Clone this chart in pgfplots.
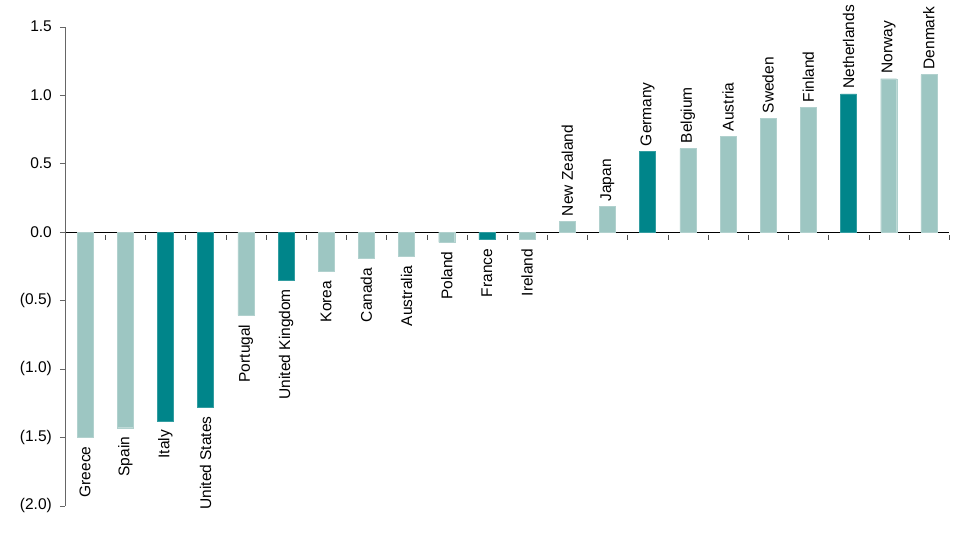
\documentclass[border=0pt]{standalone}
\usepackage{pgfplots}
\pgfplotsset{compat=1.18}
\usepackage{fontspec}
\setmainfont{Liberation Sans}
\definecolor{lightteal}{RGB}{157,198,194}
\definecolor{darkteal}{RGB}{0,133,138}
\begin{document}
\begin{tikzpicture}
\fontsize{15.5bp}{18bp}\selectfont
\begin{axis}[
    at={(0,0)}, anchor=south west,
    scale only axis,
    width=884bp, height=479bp,
    xmin=-0.5, xmax=21.5,
    ymin=-2, ymax=1.5,
    axis x line=middle,
    axis y line=left,
    axis line style={-, draw=black!60},
    x axis line style={draw=black},
    xtick={0.5,1.5,...,21.5},
    xticklabels={},
    x tick style={draw=black!70, yshift=-2.5bp},
    ytick={-2,-1.5,...,1.5},
    yticklabels={(2.0),(1.5),(1.0),(0.5),0.0,0.5,1.0,1.5},
    y tick style={draw=black!60},
    tick align=outside,
    major tick length=5bp,
    yticklabel style={font=\fontsize{15.5bp}{18bp}\selectfont, inner xsep=0pt, xshift=-8bp},
    ybar, bar width=16bp, bar shift=0pt,
    point meta=explicit symbolic,
    nodes near coords,
    every node near coord/.append style={font=\fontsize{15.5bp}{18bp}\selectfont, rotate=90, inner ysep=0pt},
]
% light, negative
\addplot[fill=lightteal, draw=lightteal!80!white, nodes near coords style={anchor=east, inner xsep=9bp}] coordinates {
(0,-1.50) [Greece]
(1,-1.43) [Spain]
(4,-0.61) [Portugal]
(6,-0.29) [Korea]
(7,-0.195) [Canada]
(8,-0.18) [Australia]
(9,-0.075) [Poland]
(11,-0.056) [Ireland]
};
% dark, negative
\addplot[fill=darkteal, draw=darkteal!80!white, nodes near coords style={anchor=east, inner xsep=9bp}] coordinates {
(2,-1.38) [Italy]
(3,-1.28) [United States]
(5,-0.35) [United Kingdom]
(10,-0.056) [France]
};
% light, positive
\addplot[fill=lightteal, draw=lightteal!80!white, nodes near coords style={anchor=west, inner xsep=5bp}] coordinates {
(12,0.078) [New Zealand]
(13,0.185) [Japan]
(15,0.61) [Belgium]
(16,0.70) [Austria]
(17,0.83) [Sweden]
(18,0.91) [Finland]
(20,1.12) [Norway]
(21,1.15) [Denmark]
};
% dark, positive
\addplot[fill=darkteal, draw=darkteal!80!white, nodes near coords style={anchor=west, inner xsep=5bp}] coordinates {
(14,0.59) [Germany]
(19,1.01) [Netherlands]
};
\end{axis}
\path[use as bounding box] (-65bp,-32bp) rectangle (891bp,505bp);
\end{tikzpicture}
\end{document}
